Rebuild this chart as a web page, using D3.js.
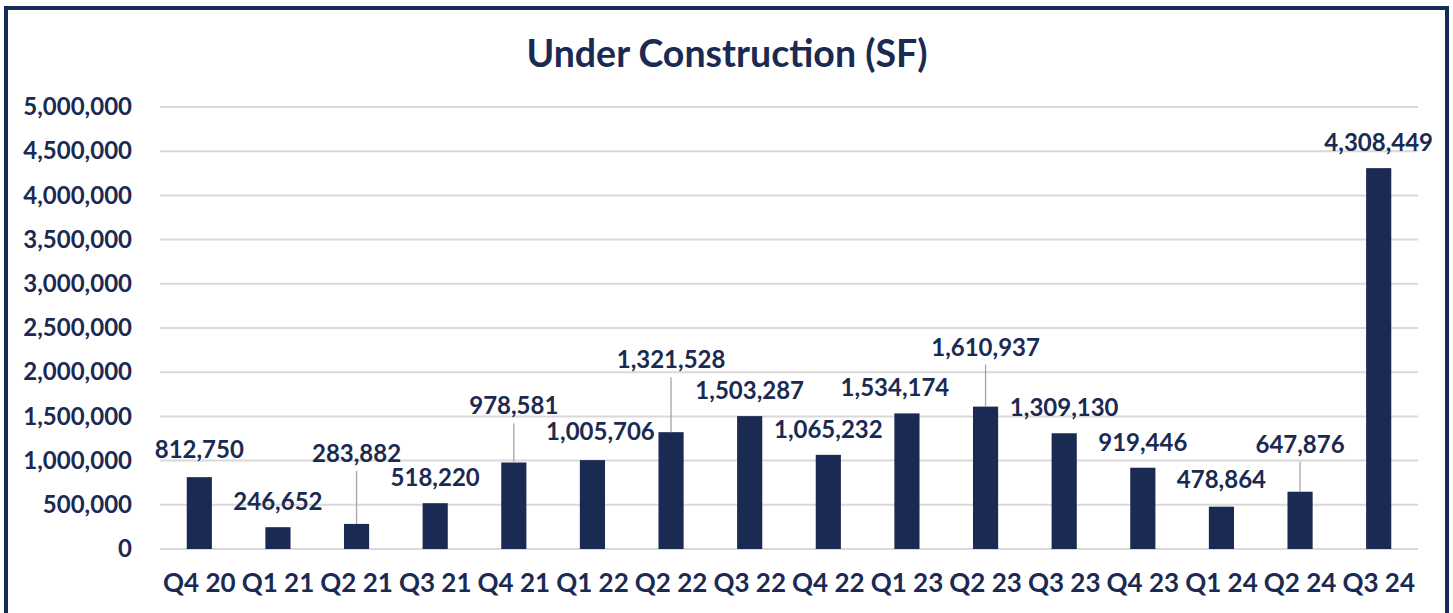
<!DOCTYPE html>
<html>
<head>
<meta charset="utf-8">
<script src="https://cdn.jsdelivr.net/npm/d3@7"></script>
<style>
  body { margin: 0; background: #fff; }
  text { font-family: Lato, "Open Sans", sans-serif; font-weight: bold; fill: #1b2a52; }
</style>
</head>
<body>
<div id="chart"></div>
<script>
// quarters and square feet under construction
const quarters = ['Q4 20', 'Q1 21', 'Q2 21', 'Q3 21', 'Q4 21', 'Q1 22', 'Q2 22', 'Q3 22',
  'Q4 22', 'Q1 23', 'Q2 23', 'Q3 23', 'Q4 23', 'Q1 24', 'Q2 24', 'Q3 24'];
const underConstruction = [812750, 246652, 283882, 518220, 978581, 1005706, 1321528, 1503287,
  1065232, 1534174, 1610937, 1309130, 919446, 478864, 647876, 4308449];
const yTicks = [0, 500000, 1000000, 1500000, 2000000, 2500000, 3000000, 3500000, 4000000, 4500000, 5000000];

// hand-moved data labels (dx, dy in px from the default spot)
const labelShift = [[0, -2], [0, 0], [0, -45], [0, 0], [0, -31], [8, -3], [0, -47], [0, 0],
  [0, 0], [-12, 0], [0, -34], [0, 0], [0, 0], [0, -2], [0, -22], [0, 0]];

const width = 1453, height = 613;
const navy = '#1b2a52';

const svg = d3.select('#chart').append('svg')
  .attr('width', width)
  .attr('height', height);

svg.append('rect')
  .attr('x', 6).attr('y', 8)
  .attr('width', 1441).attr('height', 700)
  .attr('fill', 'none')
  .attr('stroke', '#182b56')
  .attr('stroke-width', 4);

svg.append('text')
  .attr('x', 727).attr('y', 67)
  .attr('text-anchor', 'middle')
  .style('font-size', '37.5px')
  .text('Under Construction (SF)');

const x = d3.scaleBand()
  .domain(quarters)
  .range([160, 1418])
  .paddingInner(0.68)
  .paddingOuter(0.34);

const y = d3.scaleLinear()
  .domain([0, 5000000])
  .range([549, 107]);

const fmt = d3.format(',');

// grid
svg.append('g')
  .selectAll('line')
  .data(yTicks)
  .join('line')
  .attr('x1', 160).attr('x2', 1418)
  .attr('y1', d => y(d)).attr('y2', d => y(d))
  .attr('stroke', '#d9d9d9')
  .attr('stroke-width', 2);

// y axis labels
const yAxis = svg.append('g')
  .attr('transform', 'translate(160,0)')
  .call(d3.axisLeft(y).tickValues(yTicks).tickFormat(fmt).tickSize(0).tickPadding(28));
yAxis.select('.domain').remove();
yAxis.selectAll('text')
  .attr('fill', null)
  .style('font-size', '24px');

// x axis labels
const xAxis = svg.append('g')
  .attr('transform', 'translate(0,549)')
  .call(d3.axisBottom(x).tickSize(0).tickPadding(25));
xAxis.select('.domain').remove();
xAxis.selectAll('text')
  .attr('fill', null)
  .style('font-size', '26px');

// bars
svg.append('g')
  .selectAll('rect')
  .data(underConstruction)
  .join('rect')
  .attr('x', (d, i) => x(quarters[i]))
  .attr('width', x.bandwidth())
  .attr('y', d => y(d))
  .attr('height', d => y(0) - y(d))
  .attr('fill', navy);

// leader lines for labels that were dragged up
svg.append('g')
  .selectAll('line')
  .data(underConstruction.map((v, i) => ({ v, i })).filter(d => labelShift[d.i][1] < -15))
  .join('line')
  .attr('x1', d => x(quarters[d.i]) + x.bandwidth() / 2)
  .attr('x2', d => x(quarters[d.i]) + x.bandwidth() / 2)
  .attr('y1', d => y(d.v) - 17 + labelShift[d.i][1] + 9)
  .attr('y2', d => y(d.v))
  .attr('stroke', '#a6a6a6')
  .attr('stroke-width', 1.3);

// data labels
svg.append('g')
  .selectAll('text')
  .data(underConstruction)
  .join('text')
  .attr('x', (d, i) => x(quarters[i]) + x.bandwidth() / 2 + labelShift[i][0])
  .attr('y', (d, i) => y(d) - 17 + labelShift[i][1])
  .attr('text-anchor', 'middle')
  .style('font-size', '24px')
  .text(d => fmt(d));
</script>
</body>
</html>
